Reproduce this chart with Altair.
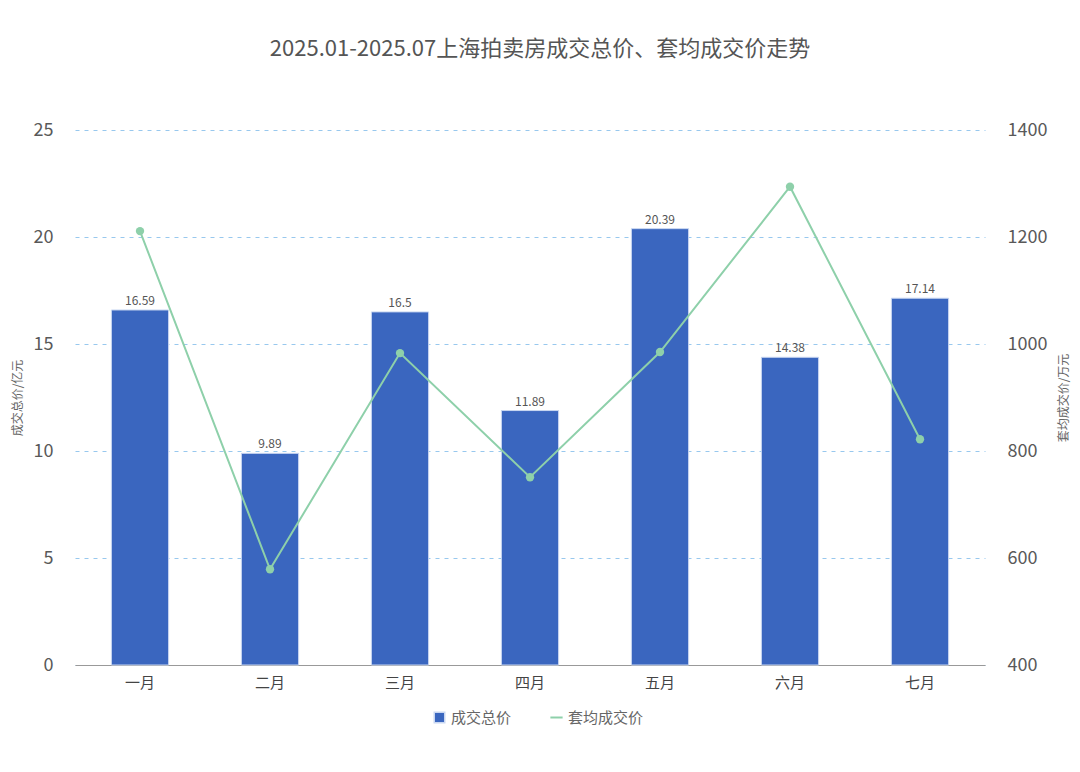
import altair as alt
import pandas as pd

months = ["一月", "二月", "三月", "四月", "五月", "六月", "七月"]
total = [16.59, 9.89, 16.5, 11.89, 20.39, 14.38, 17.14]
avg_price = [1211, 579, 983, 751, 985, 1294, 822]
series = ["成交总价", "套均成交价"]

BLUE = "#3a66bf"
GREEN = "#8ed0aa"
FONT = "Noto Sans CJK SC"

df = pd.DataFrame({
    "month": months,
    "total": total,
    "avg": avg_price,
    "s_bar": [series[0]] * len(months),
    "s_line": [series[1]] * len(months),
})

x_enc = alt.X(
    "month:N", sort=months, title=None,
    scale=alt.Scale(paddingInner=0.56, paddingOuter=0.28),
    axis=alt.Axis(labelAngle=0, labelFontSize=15, labelColor="#444", labelPadding=10,
                  ticks=False, domainColor="#999", domainWidth=1, labelFont=FONT),
)

base = alt.Chart(df)

bars = base.mark_bar(color=BLUE, stroke="#c9d7f1", strokeWidth=1).encode(
    x=x_enc,
    y=alt.Y("total:Q", title="成交总价/亿元",
            scale=alt.Scale(domain=[0, 25], nice=False),
            axis=alt.Axis(values=[0, 5, 10, 15, 20, 25], labelFontSize=18, labelColor="#595959",
                          titleFontSize=12, titleColor="#666", titleFontWeight="normal",
                          titlePadding=9, labelPadding=22,
                          domain=False, ticks=False, grid=True, gridDash=[4, 5],
                          gridColor="#98c8ee", gridWidth=1, labelFont=FONT, titleFont=FONT)),
    color=alt.Color("s_bar:N", scale=alt.Scale(domain=[series[0]], range=[BLUE]),
                    legend=alt.Legend(title=None, orient="none", legendX=357, legendY=580,
                                      symbolType="square", symbolSize=110, labelFontSize=15,
                                      labelColor="#666", labelFont=FONT, padding=0)),
)

labels = base.mark_text(dy=-9, fontSize=12, color="#555", font=FONT).encode(
    x=alt.X("month:N", sort=months),
    y=alt.Y("total:Q"),
    text=alt.Text("total:Q"),
)

left = alt.layer(bars, labels)

line = base.mark_line(color=GREEN, strokeWidth=2, point=alt.OverlayMarkDef(color=GREEN, size=70, filled=True, opacity=1)).encode(
    x=alt.X("month:N", sort=months),
    y=alt.Y("avg:Q", title="套均成交价/万元",
            scale=alt.Scale(domain=[400, 1400], nice=False),
            axis=alt.Axis(orient="right", values=[400, 600, 800, 1000, 1200, 1400], format="d",
                          labelFontSize=18, labelColor="#595959", titleFontSize=12,
                          titleColor="#666", titleFontWeight="normal", titleAngle=-90,
                          titlePadding=24, labelPadding=22,
                          domain=False, ticks=False, grid=False, labelFont=FONT, titleFont=FONT)),
    color=alt.Color("s_line:N", scale=alt.Scale(domain=[series[1]], range=[GREEN]),
                    legend=alt.Legend(title=None, orient="none", legendX=474, legendY=580,
                                      symbolType="stroke", symbolStrokeWidth=2, symbolSize=150,
                                      labelFontSize=15, labelColor="#666", labelFont=FONT,
                                      padding=0)),
)

chart = alt.layer(left, line).resolve_scale(y="independent", color="independent").properties(
    width=910, height=535,
    title=alt.TitleParams("2025.01-2025.07上海拍卖房成交总价、套均成交价走势", fontSize=22,
                          color="#555", font=FONT, fontWeight="normal", offset=60, dx=10,
                          anchor="middle"),
    autosize=alt.AutoSizeParams(type="none"),
    padding={"left": 67, "top": 122, "right": 86, "bottom": 90},
    background="white",
).configure_view(stroke=None)

chart.save("out.html", embed_options={"renderer": "svg", "actions": False})
